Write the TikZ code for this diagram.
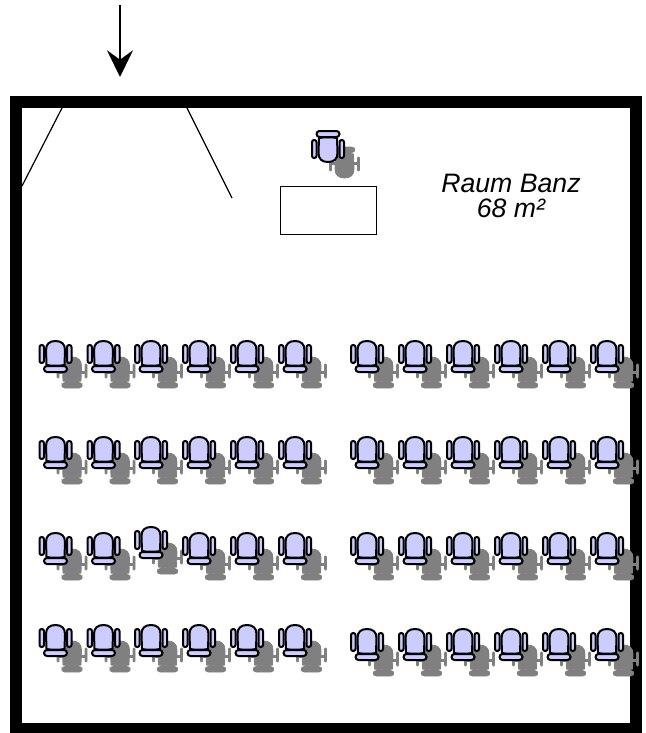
\documentclass[tikz,border=0pt]{standalone}
\usepackage{fontspec}
\setmainfont{Liberation Sans}
\usetikzlibrary{arrows.meta}
\definecolor{chairblue}{RGB}{204,204,255}
\definecolor{chairshadow}{RGB}{128,128,128}
\newcommand{\chairback}{%
    (-9,11) -- (-9.5,-4) .. controls (-9.5,-10) and (-6,-13) .. (0,-13)
        .. controls (6,-13) and (9.5,-10) .. (9.5,-4) -- (9,11) .. controls (5,12) and (-5,12) .. cycle}
\newcommand{\chairparts}{%
    \path[chairpart] \chairback;
    \path[chairpart,rounded corners=1.6pt] (-16,-9) rectangle (-11.5,9);
    \path[chairpart,rounded corners=1.6pt] (11.5,-9) rectangle (16,9);
    \path[chairpart,rounded corners=2.2pt] (-11.5,12) rectangle (11.5,18);
}
\newcommand{\chairgrey}{%
    \path[greypart] \chairback;
    \path[greypart] (-1.5,8) rectangle (1.5,14);
    \path[greypart] (-14,1) rectangle (14,3);
    \path[greypart,rounded corners=0.7pt] (-15,-6) rectangle (-13,8);
    \path[greypart,rounded corners=0.7pt] (13,-6) rectangle (15,8);
    \path[greypart,rounded corners=2.2pt] (-10,12.5) rectangle (10,18);
}
\tikzset{
    wall/.style={line width=9pt,line join=miter},
    door/.style={line width=0.9pt},
    chairpart/.style={draw=black,fill=chairblue,line width=1.5pt},
    greypart/.style={draw=chairshadow,fill=chairshadow,line width=0.6pt},
    chair/.pic={
        \begin{scope}[shift={(16.5,16)}]
            \chairgrey
        \end{scope}
        \chairparts
    },
    flippedchair/.pic={
        \begin{scope}[shift={(16.5,16)},yscale=-1]
            \chairgrey
        \end{scope}
        \begin{scope}[yscale=-1]
            \chairparts
        \end{scope}
    }
}
\begin{document}
\begin{tikzpicture}[x=0.75pt,y=-0.75pt]
    \useasboundingbox (0,0) rectangle (646,733);
    \fill[white] (0,0) rectangle (646,733);
    % room
    \draw[wall] (16,102) rectangle (636,729);
    \draw[door] (62,108) -- (22,186);
    \draw[door] (187,108) -- (232,198);
    \coordinate (entryStart) at (120,5);
    \coordinate (entryEnd) at (120,77);
    \draw[line width=1.5pt,-{Stealth[length=20pt,width=19.5pt,inset=7pt]}] (entryStart) -- (entryEnd);
    % lecturer
    \node[draw=black,line width=0.75pt,minimum width=72.5pt,minimum height=36.5pt,inner sep=0pt] (desk) at (328.5,210.5) {};
    \pic at (328,149) {flippedchair};
    \node[align=center,font=\fontsize{20}{19}\selectfont\itshape] (roomLabel) at (511,196) {Raum Banz\\68 m²};
    % audience
    \foreach \row/\rowb in {354/354,450/450,546/540,638/638} {
        \foreach \col in {55.5,103.5}
            \pic at (\col,\row) {chair};
        \pic at (151,\rowb) {chair};
        \foreach \col in {199,247,295}
            \pic at (\col,\row) {chair};
    }
    \foreach \row in {354,450,546,642}
        \foreach \col in {367,415,463,511,559,607}
            \pic at (\col,\row) {chair};
\end{tikzpicture}
\end{document}
